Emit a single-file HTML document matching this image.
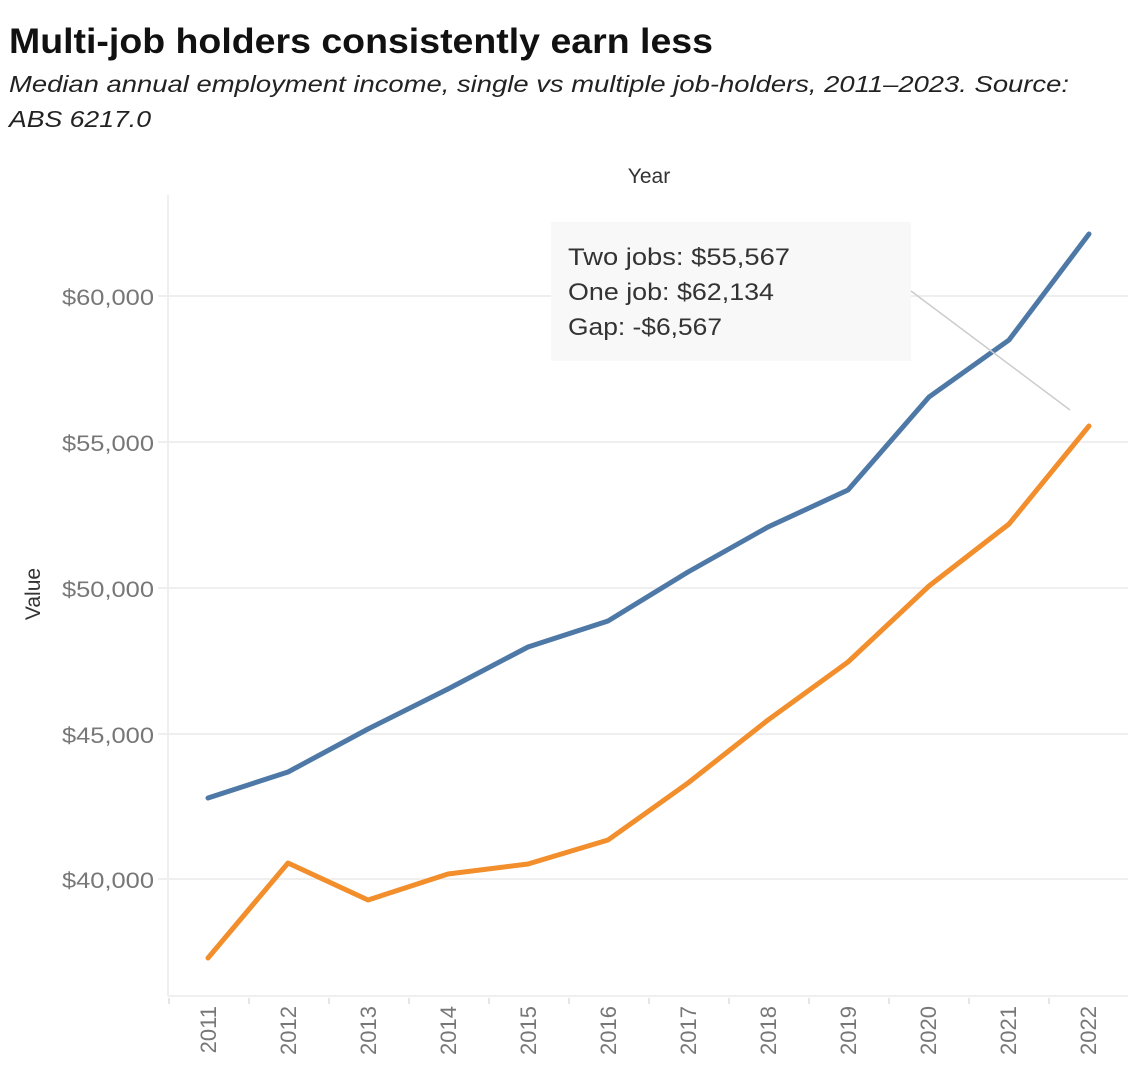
<!DOCTYPE html>
<html><head><meta charset="utf-8"><style>
html,body{margin:0;padding:0;background:#fff;}
svg{display:block;font-family:"Liberation Sans","DejaVu Sans",sans-serif;}
</style></head><body>
<svg width="1128" height="1076" viewBox="0 0 1128 1076">
<text x="9" y="53" font-size="35" font-weight="bold" fill="#111" textLength="704" lengthAdjust="spacingAndGlyphs">Multi-job holders consistently earn less</text>
<text x="9" y="92" font-size="23" font-style="italic" fill="#222" textLength="1060" lengthAdjust="spacingAndGlyphs">Median annual employment income, single vs multiple job-holders, 2011–2023. Source:</text>
<text x="9" y="127" font-size="23" font-style="italic" fill="#222" textLength="142" lengthAdjust="spacingAndGlyphs">ABS 6217.0</text>
<text x="649" y="183" font-size="21" fill="#333" text-anchor="middle">Year</text>
<text transform="translate(40,594) rotate(-90)" font-size="21" fill="#333" text-anchor="middle">Value</text>
<g stroke="#efefef" stroke-width="2">
<line x1="158" y1="296" x2="1128" y2="296"/>
<line x1="158" y1="442" x2="1128" y2="442"/>
<line x1="158" y1="588" x2="1128" y2="588"/>
<line x1="158" y1="734" x2="1128" y2="734"/>
<line x1="158" y1="879" x2="1128" y2="879"/>
<line x1="168" y1="195" x2="168" y2="996"/>
<line x1="168" y1="996" x2="1128" y2="996"/>
</g>
<g stroke="#e6e6e6" stroke-width="2">
<line x1="169" y1="998" x2="169" y2="1004"/><line x1="249" y1="998" x2="249" y2="1004"/><line x1="329" y1="998" x2="329" y2="1004"/><line x1="409" y1="998" x2="409" y2="1004"/><line x1="489" y1="998" x2="489" y2="1004"/><line x1="569" y1="998" x2="569" y2="1004"/><line x1="649" y1="998" x2="649" y2="1004"/><line x1="729" y1="998" x2="729" y2="1004"/><line x1="809" y1="998" x2="809" y2="1004"/><line x1="889" y1="998" x2="889" y2="1004"/><line x1="969" y1="998" x2="969" y2="1004"/><line x1="1049" y1="998" x2="1049" y2="1004"/>
</g>
<g font-size="22" fill="#777" text-anchor="end">
<text x="154" y="305" textLength="92" lengthAdjust="spacingAndGlyphs">$60,000</text>
<text x="154" y="451" textLength="92" lengthAdjust="spacingAndGlyphs">$55,000</text>
<text x="154" y="597" textLength="92" lengthAdjust="spacingAndGlyphs">$50,000</text>
<text x="154" y="743" textLength="92" lengthAdjust="spacingAndGlyphs">$45,000</text>
<text x="154" y="888" textLength="92" lengthAdjust="spacingAndGlyphs">$40,000</text>
</g>
<g font-size="22" fill="#777" text-anchor="end">
<text transform="translate(216,1006) rotate(-90)">2011</text>
<text transform="translate(296,1006) rotate(-90)">2012</text>
<text transform="translate(376,1006) rotate(-90)">2013</text>
<text transform="translate(456,1006) rotate(-90)">2014</text>
<text transform="translate(536,1006) rotate(-90)">2015</text>
<text transform="translate(616,1006) rotate(-90)">2016</text>
<text transform="translate(696,1006) rotate(-90)">2017</text>
<text transform="translate(776,1006) rotate(-90)">2018</text>
<text transform="translate(856,1006) rotate(-90)">2019</text>
<text transform="translate(936,1006) rotate(-90)">2020</text>
<text transform="translate(1016,1006) rotate(-90)">2021</text>
<text transform="translate(1096,1006) rotate(-90)">2022</text>
</g>
<polyline fill="none" stroke="#4e79a7" stroke-width="5" stroke-linejoin="round" stroke-linecap="round" points="208,798 288,772 368,729 448,689 528,647 608,621 688,572 768,527 848,490 929,397 1009,340 1089,234"/>
<polyline fill="none" stroke="#f28e2b" stroke-width="5" stroke-linejoin="round" stroke-linecap="round" points="208,958 288,863 368,900 448,874 528,864 608,840 688,783 768,720 848,662 929,586 1009,524 1089,426"/>
<rect x="551" y="222" width="360" height="139" fill="#f8f8f8" fill-opacity="0.95"/>
<line x1="911" y1="291" x2="1070" y2="410" stroke="#cccccc" stroke-width="1.5"/>
<g font-size="24" fill="#333">
<text x="568" y="265" textLength="222" lengthAdjust="spacingAndGlyphs">Two jobs: $55,567</text>
<text x="568" y="300" textLength="206" lengthAdjust="spacingAndGlyphs">One job: $62,134</text>
<text x="568" y="335" textLength="154" lengthAdjust="spacingAndGlyphs">Gap: -$6,567</text>
</g>
</svg>
</body></html>
